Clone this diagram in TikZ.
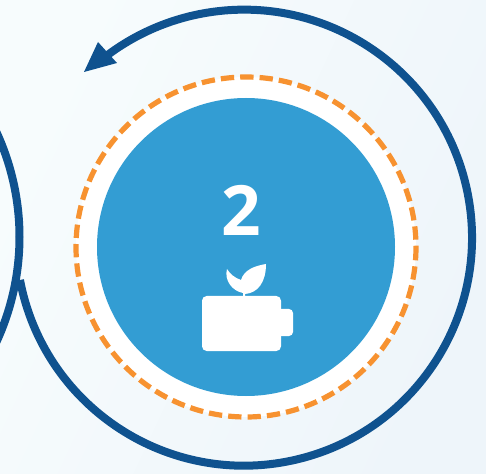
\documentclass[tikz,border=0pt]{standalone}
\usepackage{fontspec}
\setmainfont{Open Sans}
\definecolor{disc}{HTML}{339DD3}
\definecolor{ringor}{HTML}{F79230}
\definecolor{arcblue}{HTML}{0F528F}
\definecolor{bgA}{HTML}{F7FCFD}
\definecolor{bgB}{HTML}{EEF5FA}
\tikzset{
  arcline/.style={draw=arcblue,line width=6pt},
  iconfill/.style={fill=white,draw=none}
}
\begin{document}
\begin{tikzpicture}[x=0.75pt,y=-0.75pt]
\useasboundingbox (0,0) rectangle (486,474);
\clip (0,0) rectangle (486,474);
\shade[left color=bgA,right color=bgB,shading angle=65] (0,0) rectangle (486,474);
% arcs
\coordinate (c) at (243,238);
\draw[arcline] (19.5,237) arc[start angle=0,end angle=28,radius=250];
\draw[arcline] (19.5,237) arc[start angle=0,end angle=-28,radius=250];
\draw[arcline] (20,280) arc[start angle=-190.7,end angle=-487,radius=228];
\fill[arcblue] (84,72) -- (98,42) -- (117,63) -- cycle;
% disc
\fill[white] (246,247) circle[radius=170];
\fill[disc] (246,247) circle[radius=149];
\draw[draw=ringor,line width=3.9pt,dash pattern=on 10pt off 4.55pt] (246,247) circle[radius=170];
% number
\node[text=white,font=\bfseries\fontsize{52}{52}\selectfont,inner sep=0pt] (num) at (241,210) {2};
% battery
\fill[iconfill,rounded corners=3pt] (270,309) rectangle (293,336);
\fill[iconfill,rounded corners=3.5pt] (202,296) rectangle (281,351);
% leaves
\fill[iconfill] (266,264) .. controls (254,266) and (244,270) .. (241,280)
  .. controls (235,278) and (230,274) .. (227,269)
  .. controls (224,280) and (232,291) .. (243,293) -- (243,297) -- (245,297) -- (245,294)
  .. controls (258,293) and (266,282) .. cycle;
\end{tikzpicture}
\end{document}
